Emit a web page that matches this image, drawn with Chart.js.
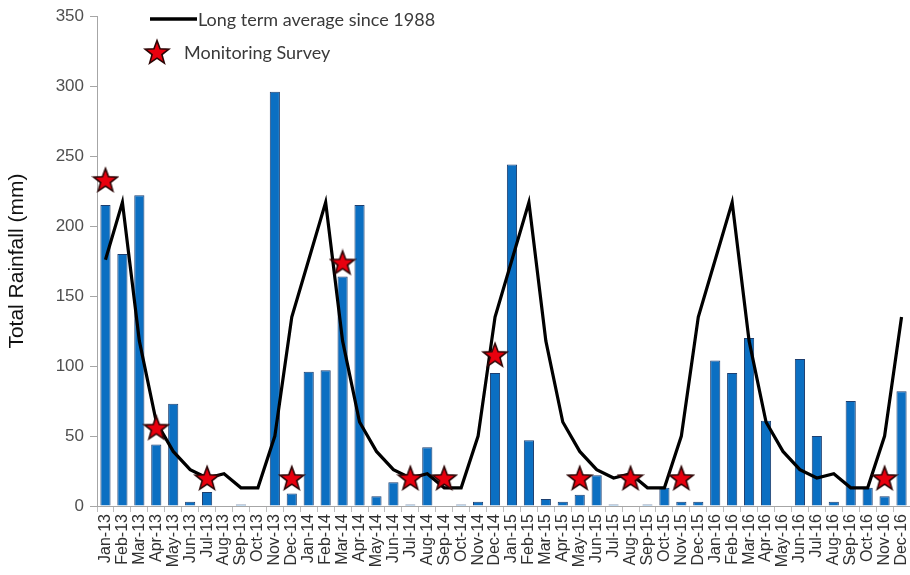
<!DOCTYPE html>
<html>
<head>
<meta charset="utf-8">
<script src="https://cdn.jsdelivr.net/npm/chart.js@4/dist/chart.umd.min.js"></script>
<style>
  html, body { margin: 0; padding: 0; background: #fff; }
  #wrap { width: 910px; height: 575px; }
</style>
</head>
<body>
<div id="wrap"><canvas id="c" width="910" height="575"></canvas></div>
<script>
// Month labels (Jan 2013 – Dec 2016)
const months = [
  'Jan-13','Feb-13','Mar-13','Apr-13','May-13','Jun-13','Jul-13','Aug-13','Sep-13','Oct-13','Nov-13','Dec-13',
  'Jan-14','Feb-14','Mar-14','Apr-14','May-14','Jun-14','Jul-14','Aug-14','Sep-14','Oct-14','Nov-14','Dec-14',
  'Jan-15','Feb-15','Mar-15','Apr-15','May-15','Jun-15','Jul-15','Aug-15','Sep-15','Oct-15','Nov-15','Dec-15',
  'Jan-16','Feb-16','Mar-16','Apr-16','May-16','Jun-16','Jul-16','Aug-16','Sep-16','Oct-16','Nov-16','Dec-16'
];

// Monthly total rainfall (mm)
const monthlyRainfall = [
  215, 180, 222, 44, 73, 3, 10, 0, 1, 0, 296, 9,
  96, 97, 164, 215, 7, 17, 1, 42, 0, 1, 3, 95,
  244, 47, 5, 3, 8, 22, 1, 0, 1, 13, 3, 3,
  104, 95, 120, 61, 0, 105, 50, 3, 75, 13, 7, 82
];

// Long term monthly average since 1988 (mm)
const longTermAverage = [
  176, 217, 118, 60, 39, 26, 20, 23, 13, 13, 50, 135,
  176, 217, 118, 60, 39, 26, 20, 23, 13, 13, 50, 135,
  176, 217, 118, 60, 39, 26, 20, 23, 13, 13, 50, 135,
  176, 217, 118, 60, 39, 26, 20, 23, 13, 13, 50, 135
];

// Monitoring survey months (marker height in mm)
const monitoringSurvey = [
  233, null, null, 56, null, null, 20, null, null, null, null, 20,
  null, null, 174, null, null, null, 20, null, 20, null, null, 108,
  null, null, null, null, 20, null, null, 20, null, null, 20, null,
  null, null, null, null, null, null, null, null, null, null, 20, null
];

const yTicks = [0, 50, 100, 150, 200, 250, 300, 350];

const seriesNames = ['Long term average since 1988', 'Monitoring Survey'];

// Filled five-pointed star used as a point style
function makeStar(size, outer, inner) {
  const cv = document.createElement('canvas');
  cv.width = size; cv.height = size;
  const g = cv.getContext('2d');
  const cx = size / 2, cy = size / 2 + 1;
  g.beginPath();
  for (let i = 0; i < 10; i++) {
    const r = i % 2 === 0 ? outer : inner;
    const a = -Math.PI / 2 + i * Math.PI / 5;
    const x = cx + r * Math.cos(a), y = cy + r * Math.sin(a);
    if (i === 0) g.moveTo(x, y); else g.lineTo(x, y);
  }
  g.closePath();
  g.fillStyle = '#e8000e';
  g.fill();
  g.lineWidth = 1.6;
  g.lineJoin = 'miter';
  g.strokeStyle = '#2b0505';
  g.stroke();
  return cv;
}
const starImg = makeStar(28, 12.5, 5.2);

// Legend drawn inside the plot, top-left
const insetLegend = {
  id: 'insetLegend',
  afterDraw(chart) {
    const ctx = chart.ctx;
    ctx.save();
    ctx.strokeStyle = '#000';
    ctx.lineWidth = 3.5;
    ctx.beginPath();
    ctx.moveTo(150, 19);
    ctx.lineTo(197, 19);
    ctx.stroke();
    ctx.font = '18px Lato, "Open Sans", sans-serif';
    ctx.fillStyle = '#3a3a3a';
    ctx.textBaseline = 'middle';
    ctx.textAlign = 'left';
    ctx.fillText(seriesNames[0], 198, 20);
    ctx.drawImage(starImg, 157 - 14, 53 - 15);
    ctx.fillText(seriesNames[1], 184, 53);
    ctx.restore();
  }
};

new Chart(document.getElementById('c'), {
  type: 'bar',
  data: {
    labels: months,
    datasets: [
      {
        type: 'line',
        label: seriesNames[1],
        data: monitoringSurvey,
        showLine: false,
        pointStyle: starImg,
        pointRadius: 13,
        clip: false,
        order: 0
      },
      {
        type: 'line',
        label: seriesNames[0],
        data: longTermAverage,
        borderColor: '#000000',
        borderWidth: 3.2,
        pointRadius: 0,
        tension: 0,
        fill: false,
        order: 1
      },
      {
        label: 'Total Rainfall',
        data: monthlyRainfall,
        backgroundColor: '#0b6fc2',
        borderColor: '#1d3f70',
        borderWidth: 1,
        barPercentage: 0.6,
        categoryPercentage: 1.0,
        order: 2
      }
    ]
  },
  options: {
    responsive: false,
    animation: false,
    layout: { autoPadding: false, padding: { top: 16, right: 0, left: 0, bottom: 0 } },
    plugins: {
      legend: { display: false },
      tooltip: { enabled: false }
    },
    scales: {
      x: {
        offset: true,
        grid: {
          offset: true,
          drawOnChartArea: false,
          drawTicks: true,
          tickLength: 6,
          color: '#bdbdbd'
        },
        border: { color: '#a6a6a6', width: 1 },
        ticks: {
          autoSkip: false,
          minRotation: 90,
          maxRotation: 90,
          padding: 2,
          color: '#303030',
          font: { family: 'Arial, "Liberation Sans", sans-serif', size: 16 }
        },
        afterFit(scale) {
          scale.height = 69;
          scale.paddingLeft = 0;
          scale.paddingRight = 0;
        }
      },
      y: {
        min: 0,
        max: 350,
        afterBuildTicks(scale) { scale.ticks = yTicks.map(v => ({ value: v })); },
        grid: {
          drawOnChartArea: false,
          drawTicks: true,
          tickLength: 7,
          color: '#a6a6a6'
        },
        border: { color: '#a6a6a6', width: 1 },
        ticks: {
          padding: 6,
          color: '#505050',
          font: { family: 'Arial, "Liberation Sans", sans-serif', size: 17 }
        },
        title: {
          display: true,
          text: 'Total Rainfall (mm)',
          color: '#111',
          padding: { top: 5, bottom: 0 },
          font: { family: 'Arial, "Liberation Sans", sans-serif', size: 21 }
        },
        afterFit(scale) { scale.width = 97; }
      }
    }
  },
  plugins: [insetLegend]
});
</script>
</body>
</html>
